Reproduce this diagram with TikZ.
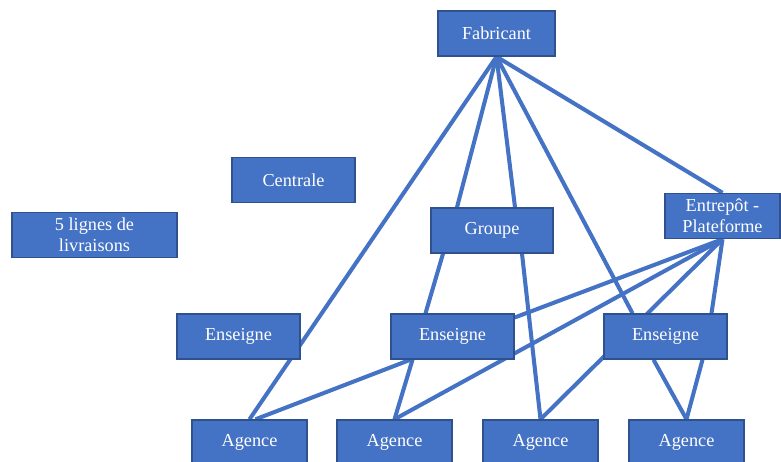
\documentclass[tikz,border=0pt]{standalone}
\usepackage{fontspec}
\setmainfont{Liberation Serif}
\usetikzlibrary{calc,backgrounds}
\definecolor{boxblue}{HTML}{4472C4}
\definecolor{boxedge}{HTML}{2F528F}
\begin{document}
\begin{tikzpicture}[x=0.02cm,y=-0.02cm,
  box/.style={draw=boxedge,line width=0.8pt,fill=boxblue,text=white,
    font=\fontsize{10.4}{12}\selectfont,align=center,
    minimum height=0.9cm,inner sep=0pt},
  link/.style={draw=boxblue,line width=2.3pt}]
\useasboundingbox (0,0) rectangle (781,462);
\node[box,minimum width=2.34cm] (fab) at (496.5,33.5) {Fabricant};
\node[box,minimum width=2.46cm] (cen) at (293.5,180) {Centrale};
\node[box,minimum width=3.3cm] (lig) at (94.5,235) {5 lignes de\\livraisons};
\node[box,minimum width=2.44cm] (grp) at (492,230.5) {Groupe};
\node[box,minimum width=2.3cm] (ent) at (722.5,216) {Entrepôt -\\Plateforme};
\foreach \n/\x in {1/238.5,2/452.5,3/665.5}
  \node[box,minimum width=2.46cm] (ens\n) at (\x,336.5) {Enseigne};
\foreach \n/\x in {1/249.5,2/394.5,3/540.5,4/686.5}
  \node[box,minimum width=2.3cm] (ag\n) at (\x,442.5) {Agence};
\begin{scope}[on background layer]
\draw[link] (fab.south) -- (ag1.north);
\draw[link] (fab.south) -- ($(grp.north)+(-35,0)$);
\draw[link] (fab.south) -- ($(grp.north)+(23,0)$);
\draw[link] (fab.south) -- ($(ens3.north)+(-33,0)$);
\draw[link] (fab.south) -- (ent.north);
\draw[link] ($(grp.south)+(-49,0)$) -- ($(ens2.north)+(-27,0)$);
\draw[link] ($(grp.south)+(30,0)$) -- (ag3.north);
\draw[link] (ent.south) -- ($(ens2.east)+(0,-19)$);
\draw[link] (ent.south) -- (ag2.north);
\draw[link] (ent.south) -- (ag3.north);
\draw[link] (ent.south) -- ($(ens3.north)+(46,0)$);
\draw[link] ($(ens2.south)+(-42,0)$) -- ($(ag1.north)+(6,0)$);
\draw[link] ($(ens2.south)+(-40,0)$) -- (ag2.north);
\draw[link] ($(ens3.south)+(-12,0)$) -- (ag4.north);
\draw[link] ($(ens3.south)+(37,0)$) -- (ag4.north);
\end{scope}
\end{tikzpicture}
\end{document}
